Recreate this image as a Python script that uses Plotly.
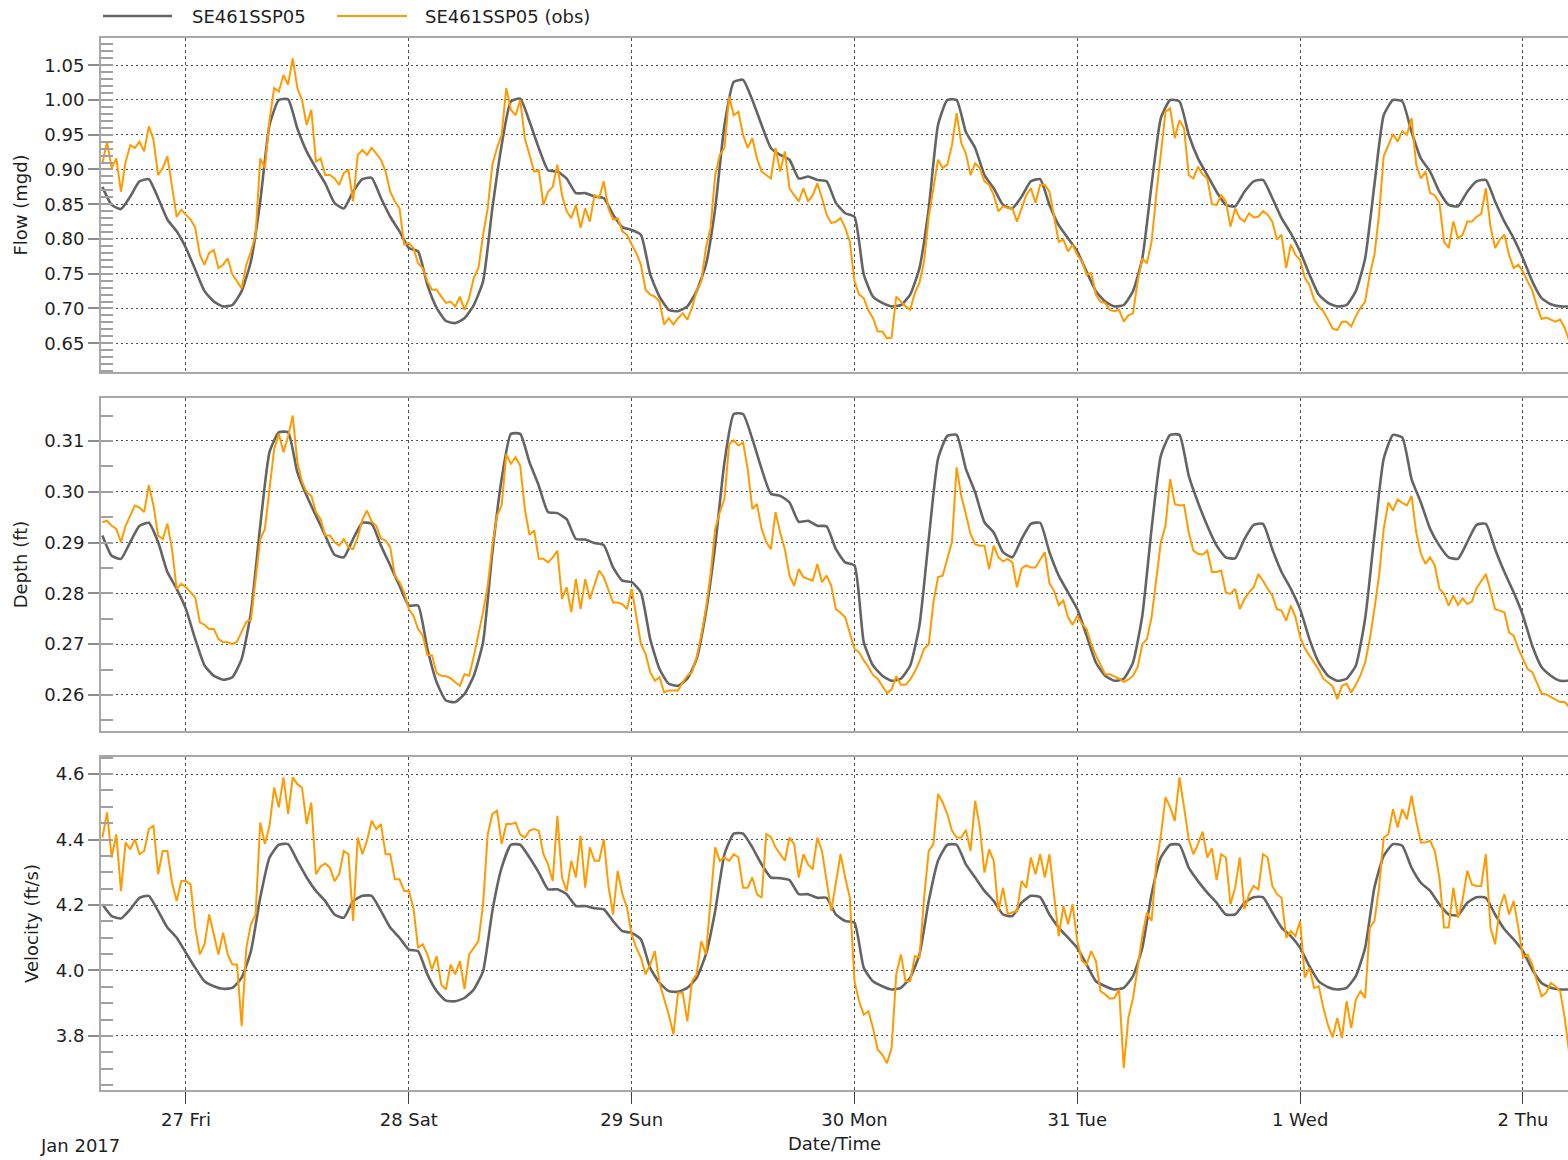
import pandas as pd
import plotly.graph_objects as go
from plotly.subplots import make_subplots

# ---------------------------------------------------------------------------
# Series data (model hourly, observations every 30 minutes), from 26 Jan 15:00
# ---------------------------------------------------------------------------
series_start = "2017-01-26 15:00"

flow_model = [
    0.875, 0.849, 0.843, 0.861, 0.883, 0.886, 0.859, 0.828, 0.811, 0.787,
    0.756, 0.725, 0.710, 0.703, 0.705, 0.725, 0.768, 0.854, 0.964, 1.000,
    1.001, 0.959, 0.926, 0.902, 0.880, 0.852, 0.844, 0.868, 0.886, 0.888,
    0.859, 0.832, 0.811, 0.787, 0.782, 0.734, 0.701, 0.682, 0.679, 0.686,
    0.705, 0.739, 0.844, 0.935, 0.998, 1.002, 0.969, 0.931, 0.899, 0.897,
    0.887, 0.866, 0.866, 0.861, 0.859, 0.835, 0.817, 0.813, 0.806, 0.749,
    0.717, 0.698, 0.696, 0.703, 0.725, 0.763, 0.844, 0.964, 1.026, 1.029,
    1.000, 0.964, 0.931, 0.921, 0.914, 0.887, 0.890, 0.885, 0.883, 0.852,
    0.837, 0.832, 0.749, 0.717, 0.708, 0.703, 0.705, 0.720, 0.758, 0.844,
    0.964, 1.000, 1.000, 0.954, 0.931, 0.892, 0.873, 0.849, 0.844, 0.861,
    0.883, 0.886, 0.849, 0.820, 0.801, 0.782, 0.753, 0.725, 0.710, 0.703,
    0.705, 0.725, 0.772, 0.878, 0.974, 1.000, 0.998, 0.950, 0.916, 0.892,
    0.868, 0.849, 0.847, 0.868, 0.883, 0.885, 0.859, 0.830, 0.808, 0.782,
    0.749, 0.720, 0.708, 0.703, 0.705, 0.725, 0.772, 0.878, 0.978, 1.000,
    0.998, 0.954, 0.916, 0.897, 0.868, 0.849, 0.847, 0.868, 0.883, 0.885,
    0.854, 0.825, 0.801, 0.772, 0.739, 0.715, 0.706, 0.703, 0.703,
]

flow_obs = [
    0.909, 0.940, 0.902, 0.916, 0.868, 0.911, 0.935, 0.931, 0.940, 0.926,
    0.962, 0.943, 0.892, 0.902, 0.919, 0.873, 0.832, 0.842, 0.835, 0.828,
    0.816, 0.777, 0.763, 0.780, 0.784, 0.758, 0.763, 0.772, 0.749, 0.739,
    0.729, 0.763, 0.782, 0.806, 0.916, 0.902, 0.971, 1.017, 1.012, 1.036,
    1.022, 1.060, 1.017, 1.000, 0.964, 0.986, 0.911, 0.916, 0.892, 0.892,
    0.887, 0.878, 0.895, 0.899, 0.854, 0.921, 0.928, 0.921, 0.931, 0.923,
    0.914, 0.897, 0.868, 0.854, 0.844, 0.792, 0.794, 0.787, 0.765, 0.758,
    0.739, 0.727, 0.727, 0.717, 0.708, 0.710, 0.703, 0.717, 0.698, 0.715,
    0.744, 0.758, 0.806, 0.844, 0.907, 0.931, 0.950, 1.017, 0.986, 0.978,
    1.000, 0.945, 0.921, 0.897, 0.899, 0.849, 0.868, 0.875, 0.907, 0.863,
    0.840, 0.830, 0.849, 0.816, 0.844, 0.825, 0.863, 0.859, 0.883, 0.844,
    0.828, 0.830, 0.811, 0.806, 0.792, 0.780, 0.763, 0.727, 0.720, 0.717,
    0.710, 0.677, 0.686, 0.677, 0.686, 0.693, 0.684, 0.701, 0.725, 0.739,
    0.787, 0.816, 0.892, 0.921, 0.931, 1.005, 0.978, 0.983, 0.950, 0.931,
    0.945, 0.916, 0.897, 0.892, 0.887, 0.931, 0.897, 0.926, 0.873, 0.863,
    0.854, 0.873, 0.854, 0.863, 0.880, 0.859, 0.835, 0.823, 0.825,
    0.830, 0.816, 0.796, 0.739, 0.720, 0.715, 0.697, 0.686, 0.667, 0.667,
    0.657, 0.658, 0.717, 0.710, 0.703, 0.698, 0.722, 0.737, 0.768, 0.832,
    0.873, 0.914, 0.902, 0.907, 0.935, 0.981, 0.938, 0.923, 0.892, 0.909,
    0.902, 0.883, 0.878, 0.863, 0.840, 0.847, 0.845, 0.844, 0.825, 0.844,
    0.863, 0.873, 0.852, 0.878, 0.878, 0.868, 0.832, 0.796, 0.799, 0.782,
    0.792, 0.777, 0.768, 0.749, 0.751, 0.720, 0.710, 0.708, 0.698, 0.696,
    0.698, 0.681, 0.690, 0.693, 0.739, 0.772, 0.765, 0.796, 0.863, 0.928,
    0.983, 0.988, 0.945, 0.971, 0.959, 0.892, 0.887, 0.904, 0.893, 0.887,
    0.850, 0.849, 0.863, 0.854, 0.818, 0.844, 0.830, 0.825, 0.837, 0.831,
    0.832, 0.840, 0.835, 0.825, 0.799, 0.806, 0.758, 0.792, 0.777, 0.770,
    0.744, 0.734, 0.713, 0.703, 0.696, 0.684, 0.671, 0.669, 0.681, 0.681,
    0.674, 0.689, 0.701, 0.710, 0.749, 0.777, 0.835, 0.919, 0.935, 0.951,
    0.940, 0.955, 0.950, 0.974, 0.907, 0.887, 0.897, 0.866, 0.863, 0.852,
    0.796, 0.787, 0.825, 0.801, 0.806, 0.825, 0.825, 0.832, 0.836, 0.873,
    0.818, 0.787, 0.799, 0.806, 0.777, 0.758, 0.763, 0.753, 0.739, 0.726,
    0.703, 0.685, 0.687, 0.684, 0.681, 0.684, 0.672, 0.653,
]

depth_model = [
    0.2914, 0.2874, 0.2868, 0.2901, 0.2933, 0.2939, 0.2901, 0.2842, 0.2809, 0.2769,
    0.2710, 0.2658, 0.2638, 0.2630, 0.2635, 0.2671, 0.2763, 0.2933, 0.3078, 0.3117,
    0.3117, 0.3038, 0.2992, 0.2953, 0.2914, 0.2876, 0.2871, 0.2907, 0.2939, 0.2937,
    0.2894, 0.2855, 0.2815, 0.2776, 0.2776, 0.2691, 0.2625, 0.2589, 0.2586, 0.2602,
    0.2638, 0.2704, 0.2881, 0.3025, 0.3114, 0.3114, 0.3058, 0.3012, 0.2960, 0.2958,
    0.2946, 0.2907, 0.2906, 0.2899, 0.2895, 0.2851, 0.2825, 0.2822, 0.2802, 0.2710,
    0.2651, 0.2622, 0.2618, 0.2632, 0.2671, 0.2763, 0.2894, 0.3058, 0.3153, 0.3153,
    0.3104, 0.3045, 0.2996, 0.2992, 0.2979, 0.2941, 0.2943, 0.2933, 0.2932, 0.2887,
    0.2861, 0.2855, 0.2704, 0.2658, 0.2638, 0.2628, 0.2632, 0.2658, 0.2737, 0.2907,
    0.3065, 0.3110, 0.3112, 0.3045, 0.2999, 0.2940, 0.2920, 0.2881, 0.2871, 0.2907,
    0.2937, 0.2939, 0.2881, 0.2835, 0.2802, 0.2769, 0.2717, 0.2664, 0.2638, 0.2628,
    0.2632, 0.2664, 0.2756, 0.2927, 0.3071, 0.3112, 0.3112, 0.3032, 0.2979, 0.2933,
    0.2894, 0.2871, 0.2869, 0.2907, 0.2935, 0.2937, 0.2887, 0.2842, 0.2809, 0.2769,
    0.2710, 0.2664, 0.2638, 0.2628, 0.2632, 0.2658, 0.2750, 0.2914, 0.3065, 0.3112,
    0.3107, 0.3025, 0.2979, 0.2927, 0.2894, 0.2871, 0.2868, 0.2901, 0.2935, 0.2937,
    0.2887, 0.2842, 0.2802, 0.2756, 0.2697, 0.2655, 0.2638, 0.2628, 0.2628,
]

depth_obs = [
    0.2940, 0.2943, 0.2933, 0.2927, 0.2901, 0.2933, 0.2953, 0.2973, 0.2969, 0.2960,
    0.3013, 0.2973, 0.2914, 0.2907, 0.2937, 0.2887, 0.2809, 0.2819, 0.2812, 0.2802,
    0.2792, 0.2743, 0.2738, 0.2730, 0.2730, 0.2710, 0.2704, 0.2704, 0.2700, 0.2705,
    0.2725, 0.2744, 0.2748, 0.2825, 0.2907, 0.2927, 0.3012, 0.3084, 0.3114, 0.3078,
    0.3109, 0.3150, 0.3058, 0.3020, 0.2999, 0.2992, 0.2960, 0.2946, 0.2914, 0.2914,
    0.2901, 0.2894, 0.2907, 0.2891, 0.2887, 0.2910, 0.2945, 0.2963, 0.2941, 0.2933,
    0.2908, 0.2904, 0.2891, 0.2835, 0.2822, 0.2802, 0.2769, 0.2756, 0.2730, 0.2717,
    0.2679, 0.2678, 0.2643, 0.2638, 0.2637, 0.2633, 0.2625, 0.2618, 0.2641, 0.2638,
    0.2676, 0.2717, 0.2763, 0.2815, 0.2894, 0.2953, 0.2973, 0.3074, 0.3055, 0.3068,
    0.3051, 0.2966, 0.2915, 0.2924, 0.2868, 0.2868, 0.2861, 0.2871, 0.2884, 0.2789,
    0.2812, 0.2763, 0.2828, 0.2769, 0.2828, 0.2789, 0.2815, 0.2845, 0.2832, 0.2805,
    0.2782, 0.2782, 0.2779, 0.2769, 0.2809, 0.2756, 0.2700, 0.2681, 0.2645, 0.2628,
    0.2635, 0.2605, 0.2609, 0.2609, 0.2609, 0.2625, 0.2638, 0.2645, 0.2674, 0.2717,
    0.2769, 0.2838, 0.2927, 0.2960, 0.2986, 0.3094, 0.3101, 0.3091, 0.3097, 0.3045,
    0.2966, 0.2976, 0.2927, 0.2901, 0.2887, 0.2960, 0.2920, 0.2887, 0.2835, 0.2815,
    0.2848, 0.2832, 0.2828, 0.2825, 0.2858, 0.2822, 0.2835, 0.2815, 0.2769,
    0.2762, 0.2753, 0.2723, 0.2691, 0.2684, 0.2668, 0.2655, 0.2639, 0.2632, 0.2617,
    0.2604, 0.2611, 0.2637, 0.2620, 0.2620, 0.2630, 0.2646, 0.2666, 0.2691, 0.2700,
    0.2782, 0.2832, 0.2835, 0.2868, 0.2901, 0.3048, 0.2992, 0.2956, 0.2917, 0.2897,
    0.2894, 0.2894, 0.2848, 0.2894, 0.2871, 0.2863, 0.2868, 0.2861, 0.2812, 0.2849,
    0.2855, 0.2851, 0.2851, 0.2866, 0.2881, 0.2820, 0.2805, 0.2777, 0.2786, 0.2753,
    0.2738, 0.2756, 0.2740, 0.2730, 0.2700, 0.2678, 0.2658, 0.2641, 0.2641, 0.2637,
    0.2632, 0.2626, 0.2630, 0.2638, 0.2655, 0.2700, 0.2710, 0.2753, 0.2828, 0.2901,
    0.2933, 0.3025, 0.2976, 0.2973, 0.2974, 0.2920, 0.2884, 0.2878, 0.2876, 0.2884,
    0.2842, 0.2842, 0.2845, 0.2802, 0.2799, 0.2809, 0.2769, 0.2789, 0.2802, 0.2812,
    0.2838, 0.2825, 0.2809, 0.2796, 0.2769, 0.2766, 0.2746, 0.2776, 0.2753, 0.2714,
    0.2692, 0.2678, 0.2664, 0.2650, 0.2632, 0.2625, 0.2617, 0.2592, 0.2618, 0.2622,
    0.2605, 0.2620, 0.2639, 0.2664, 0.2710, 0.2769, 0.2835, 0.2927, 0.2979, 0.2963,
    0.2985, 0.2978, 0.2973, 0.2992, 0.2920, 0.2878, 0.2858, 0.2871, 0.2855, 0.2809,
    0.2799, 0.2776, 0.2796, 0.2777, 0.2790, 0.2779, 0.2784, 0.2810, 0.2823, 0.2838,
    0.2805, 0.2769, 0.2766, 0.2763, 0.2723, 0.2717, 0.2691, 0.2671, 0.2651, 0.2645,
    0.2622, 0.2603, 0.2601, 0.2596, 0.2591, 0.2586, 0.2586, 0.2576,
]

velocity_model = [
    4.202, 4.166, 4.159, 4.187, 4.222, 4.228, 4.182, 4.131, 4.100, 4.054,
    4.008, 3.967, 3.952, 3.944, 3.947, 3.978, 4.059, 4.222, 4.345, 4.384,
    4.386, 4.335, 4.284, 4.243, 4.212, 4.171, 4.161, 4.212, 4.228, 4.228,
    4.182, 4.131, 4.100, 4.064, 4.059, 3.988, 3.937, 3.908, 3.906, 3.916,
    3.942, 3.998, 4.182, 4.314, 4.384, 4.384, 4.345, 4.299, 4.248, 4.248,
    4.233, 4.197, 4.197, 4.190, 4.187, 4.151, 4.120, 4.115, 4.095, 4.008,
    3.962, 3.937, 3.935, 3.947, 3.978, 4.049, 4.182, 4.355, 4.418, 4.418,
    4.376, 4.324, 4.284, 4.282, 4.276, 4.233, 4.233, 4.222, 4.222, 4.171,
    4.151, 4.146, 4.008, 3.967, 3.952, 3.942, 3.947, 3.978, 4.049, 4.212,
    4.335, 4.384, 4.384, 4.324, 4.284, 4.243, 4.212, 4.171, 4.166, 4.207,
    4.228, 4.224, 4.171, 4.131, 4.100, 4.069, 4.018, 3.967, 3.952, 3.942,
    3.947, 3.983, 4.069, 4.233, 4.345, 4.384, 4.384, 4.314, 4.273, 4.238,
    4.207, 4.171, 4.171, 4.207, 4.224, 4.224, 4.177, 4.131, 4.105, 4.069,
    4.013, 3.967, 3.949, 3.942, 3.947, 3.983, 4.069, 4.253, 4.350, 4.386,
    4.381, 4.314, 4.268, 4.243, 4.202, 4.171, 4.169, 4.207, 4.224, 4.222,
    4.171, 4.126, 4.095, 4.059, 4.003, 3.962, 3.947, 3.942, 3.942,
]

velocity_obs = [
    4.406, 4.483, 4.345, 4.416, 4.243, 4.391, 4.370, 4.401, 4.355, 4.365,
    4.432, 4.442, 4.294, 4.365, 4.365, 4.268, 4.212, 4.273, 4.273, 4.263,
    4.131, 4.049, 4.080, 4.171, 4.110, 4.049, 4.115, 4.049, 4.018, 4.018,
    3.830, 4.069, 4.141, 4.171, 4.452, 4.386, 4.442, 4.559, 4.498, 4.590,
    4.478, 4.590, 4.569, 4.559, 4.447, 4.513, 4.294, 4.318, 4.327, 4.314,
    4.273, 4.294, 4.365, 4.355, 4.151, 4.406, 4.355, 4.396, 4.457, 4.432,
    4.447, 4.355, 4.355, 4.279, 4.279, 4.243, 4.243, 4.192, 4.069, 4.080,
    4.049, 4.003, 4.044, 3.957, 3.942, 4.018, 3.988, 4.029, 3.943, 4.049,
    4.069, 4.090, 4.202, 4.416, 4.478, 4.488, 4.386, 4.447, 4.447, 4.452,
    4.416, 4.406, 4.427, 4.432, 4.427, 4.355, 4.324, 4.273, 4.472, 4.284,
    4.243, 4.335, 4.284, 4.411, 4.253, 4.376, 4.335, 4.335, 4.401, 4.258,
    4.171, 4.304, 4.233, 4.192, 4.110, 4.069, 4.039, 3.988, 4.018, 4.059,
    3.962, 3.916, 3.865, 3.805, 3.932, 3.932, 3.845, 3.967, 3.988, 4.090,
    4.049, 4.212, 4.376, 4.335, 4.345, 4.335, 4.355, 4.345, 4.253, 4.253,
    4.284, 4.233, 4.222, 4.416, 4.408, 4.376, 4.355, 4.335, 4.406, 4.386,
    4.284, 4.355, 4.324, 4.309, 4.406, 4.365, 4.273, 4.182, 4.268,
    4.355, 4.284, 4.222, 3.967, 3.906, 3.865, 3.876, 3.824, 3.758, 3.743,
    3.717, 3.763, 3.988, 4.049, 3.967, 3.967, 4.044, 4.039, 4.222, 4.365,
    4.386, 4.539, 4.513, 4.478, 4.427, 4.406, 4.406, 4.429, 4.365, 4.518,
    4.437, 4.299, 4.370, 4.335, 4.182, 4.253, 4.173, 4.177, 4.182, 4.273,
    4.253, 4.345, 4.294, 4.355, 4.284, 4.355, 4.233, 4.105, 4.197, 4.141,
    4.202, 4.090, 4.029, 4.018, 4.059, 4.029, 3.937, 3.927, 3.914, 3.916,
    3.942, 3.702, 3.855, 3.916, 4.008, 4.105, 4.177, 4.151, 4.324, 4.411,
    4.529, 4.498, 4.457, 4.590, 4.498, 4.401, 4.355, 4.386, 4.424, 4.345,
    4.373, 4.276, 4.355, 4.345, 4.202, 4.253, 4.345, 4.187, 4.233, 4.258,
    4.248, 4.355, 4.345, 4.258, 4.233, 4.222, 4.100, 4.120, 4.105, 4.151,
    3.978, 4.008, 3.947, 3.952, 3.886, 3.833, 3.796, 3.855, 3.794, 3.906,
    3.824, 3.911, 3.937, 3.916, 4.131, 4.151, 4.253, 4.406, 4.416, 4.493,
    4.437, 4.493, 4.462, 4.534, 4.457, 4.391, 4.391, 4.396, 4.365, 4.284,
    4.131, 4.131, 4.253, 4.161, 4.217, 4.304, 4.263, 4.258, 4.258, 4.355,
    4.131, 4.080, 4.192, 4.233, 4.171, 4.212, 4.131, 4.039, 4.049, 4.018,
    3.967, 3.921, 3.932, 3.962, 3.952, 3.937, 3.855, 3.743,
]

model_name = "SE461SSP05"
obs_name = "SE461SSP05 (obs)"
panel_titles = ["Flow (mgd)", "Depth (ft)", "Velocity (ft/s)"]

# ---------------------------------------------------------------------------
# Figure
# ---------------------------------------------------------------------------
W, H = 1568, 1160
M_L, M_R, M_T, M_B = 101, 0, 38, 70
FONT = "DejaVu Sans"
TEXT = "#1f1f1f"
GREY = "#646464"
ORANGE = "#ff9b00"

model_time = pd.date_range(series_start, periods=len(flow_model), freq="1h")
obs_time = pd.date_range(series_start, periods=len(flow_obs), freq="30min")

fig = make_subplots(rows=3, cols=1, shared_xaxes=True)

panels = [(flow_model, flow_obs), (depth_model, depth_obs),
          (velocity_model, velocity_obs)]
for row, (mod, obs) in enumerate(panels, start=1):
    fig.add_trace(go.Scatter(x=model_time, y=mod, mode="lines", name=model_name,
                             line=dict(color=GREY, width=2.6, shape="spline",
                                       smoothing=0.5),
                             showlegend=False), row=row, col=1)
    fig.add_trace(go.Scatter(x=obs_time, y=obs, mode="lines", name=obs_name,
                             line=dict(color=ORANGE, width=2),
                             showlegend=False), row=row, col=1)


def px_x(px):
    return (px - M_L) / (W - M_L - M_R)


def px_y(py):
    return (H - M_B - py) / (H - M_T - M_B)


x_range = ["2017-01-26 14:51", "2017-02-02 04:51"]
xcommon = dict(range=x_range, type="date", showline=True, mirror=True,
               linecolor="#a8a8a8", linewidth=2, showgrid=True,
               gridcolor="#505050", griddash="3px,3px", gridwidth=1,
               dtick=86400000, tick0="2017-01-27", zeroline=False)

fig.update_layout(
    xaxis=dict(**xcommon, ticks="", showticklabels=False),
    xaxis2=dict(**xcommon, ticks="", showticklabels=False),
    xaxis3=dict(**xcommon, ticks="outside", ticklen=12, tickcolor="#404040",
                tickwidth=1, tickformat="%-d %a",
                tickfont=dict(family=FONT, size=18, color=TEXT),
                title=dict(text="Date/Time", standoff=9,
                           font=dict(family=FONT, size=18, color=TEXT))),
)

ycommon = dict(showline=True, linecolor="#a8a8a8", linewidth=2,
               ticks="outside", ticklen=11, tickcolor="#8c8c8c", tickwidth=1.5,
               showgrid=True, gridcolor="#505050", griddash="2px,3px",
               gridwidth=1, zeroline=False,
               tickfont=dict(family=FONT, size=18, color=TEXT))

domains = [[px_y(372), px_y(38)], [px_y(731), px_y(398)], [px_y(1090), px_y(757)]]
ranges = [[0.6086, 1.0892], [0.25291, 0.31846], [3.635, 4.652]]
dticks = [0.05, 0.01, 0.2]
minor_dticks = [0.01, 0.005, 0.05]
formats = [".2f", ".2f", ".1f"]

for i in range(3):
    key = "yaxis" if i == 0 else f"yaxis{i + 1}"
    fig.layout[key].update(
        **ycommon, domain=domains[i], range=ranges[i], dtick=dticks[i],
        tick0=0, tickformat=formats[i],
        minor=dict(ticks="inside", ticklen=12, tickcolor="#a0a0a0",
                   tickwidth=1.5, dtick=minor_dticks[i], showgrid=False),
        title=dict(text=panel_titles[i], standoff=12,
                   font=dict(family=FONT, size=18, color=TEXT)))

# Legend drawn across the top edge
legend_y = px_y(16)
legend_items = [(103, 172, 190, GREY, 2.6, model_name),
                (337, 407, 423, ORANGE, 2, obs_name)]
for x0, x1, xt, color, width, label in legend_items:
    fig.add_shape(type="line", xref="paper", yref="paper",
                  x0=px_x(x0), x1=px_x(x1), y0=legend_y, y1=legend_y,
                  line=dict(color=color, width=width))
    fig.add_annotation(xref="paper", yref="paper", x=px_x(xt), y=legend_y,
                       xanchor="left", yanchor="middle", showarrow=False,
                       text=label, font=dict(family=FONT, size=18, color=TEXT))

# Month/year caption under the first date tick
fig.add_annotation(xref="paper", yref="paper", x=px_x(38), y=px_y(1145),
                   xanchor="left", yanchor="middle", showarrow=False,
                   text="Jan 2017", font=dict(family=FONT, size=18, color=TEXT))

fig.update_layout(
    width=W, height=H,
    margin=dict(l=M_L, r=M_R, t=M_T, b=M_B, autoexpand=False),
    paper_bgcolor="white", plot_bgcolor="white",
    font=dict(family=FONT, size=18, color=TEXT),
    showlegend=False,
)

fig.write_html("out.html")
